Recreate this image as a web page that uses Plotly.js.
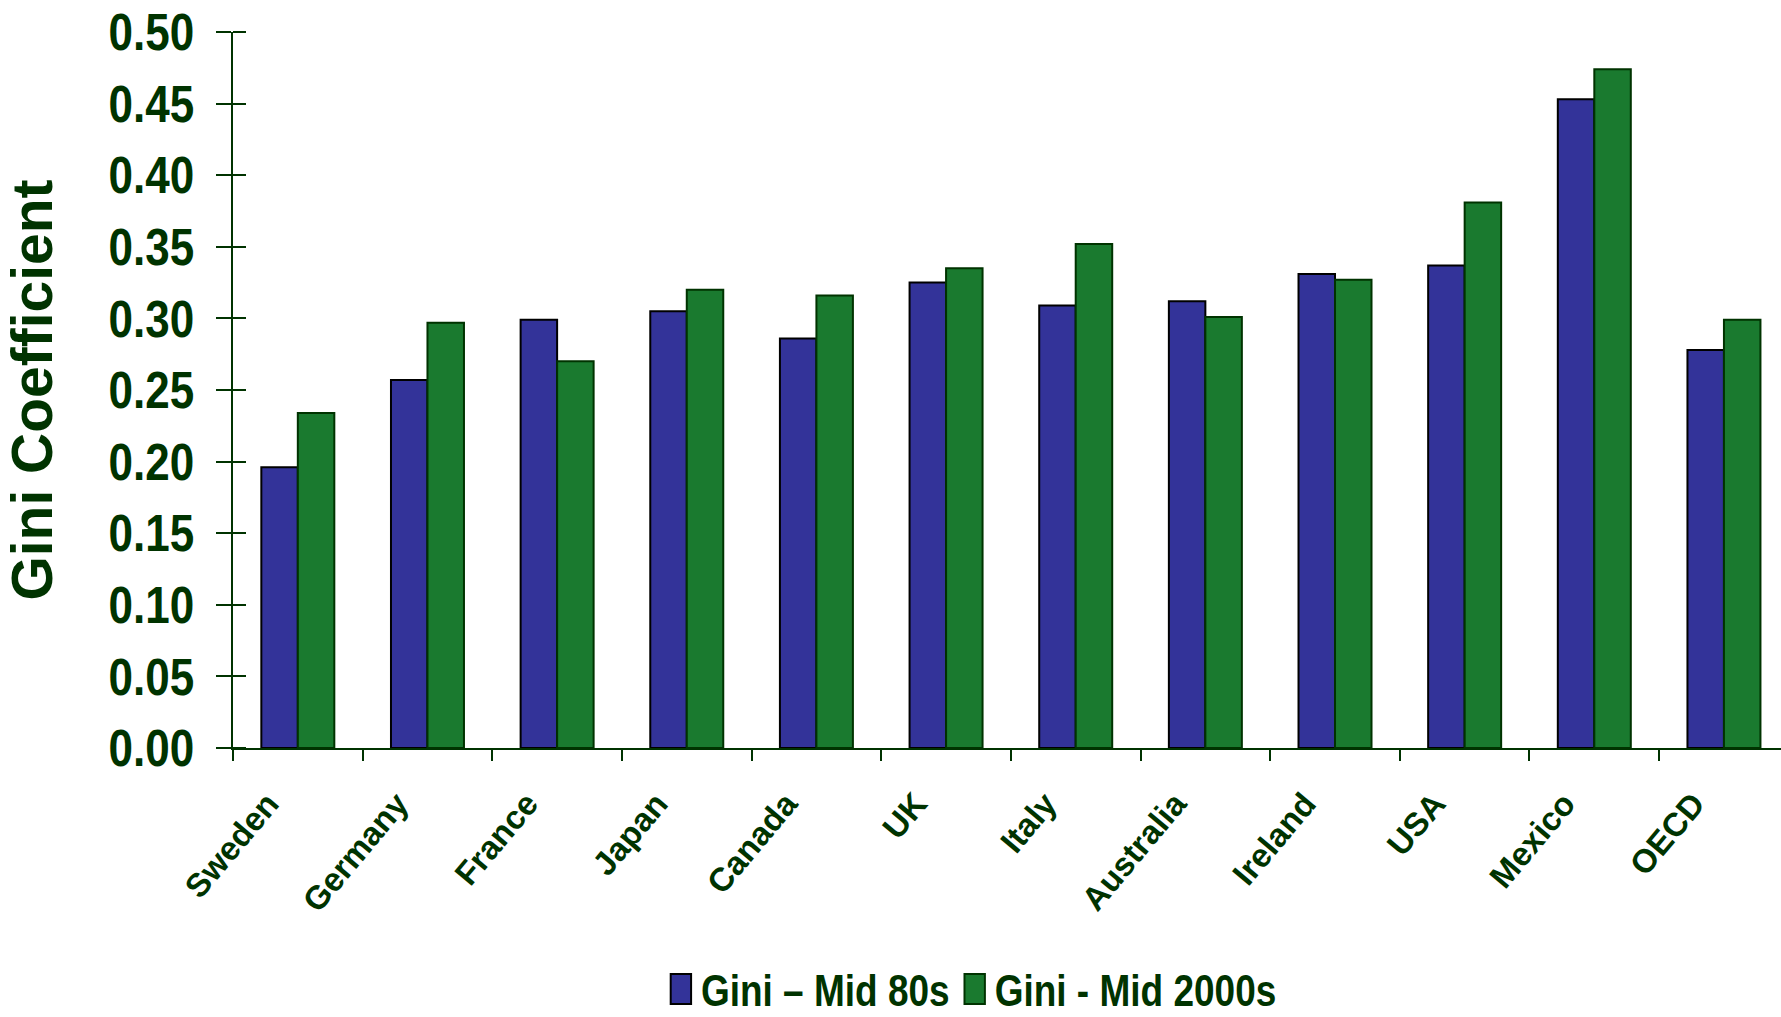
<!DOCTYPE html>
<html>
<head>
<meta charset="utf-8">
<script src="https://cdn.plot.ly/plotly-3.0.1.min.js"></script>
<style>
  html, body { margin: 0; padding: 0; background: #ffffff; }
  #chart { width: 1781px; height: 1017px; }
  /* tall, condensed look for the value labels and legend text */
  #chart g.ytick, #chart text.legendtext {
    transform-box: fill-box;
    transform-origin: 50% 50%;
    transform: scaleY(1.18);
  }
  /* larger, upright legend swatches (keeps plotly's 20px centring offset) */
  #chart g.legendpoints path {
    transform-box: view-box;
    transform-origin: 0 0;
    transform: translate(20px, 0px) scale(1.7, 2.5);
    vector-effect: non-scaling-stroke;
  }
</style>
</head>
<body>
<div id="chart"></div>
<script>
// Income inequality (Gini coefficient), mid-1980s vs mid-2000s
const countries = ["Sweden", "Germany", "France", "Japan", "Canada", "UK",
                   "Italy", "Australia", "Ireland", "USA", "Mexico", "OECD"];
const giniMid80s   = [0.196, 0.257, 0.299, 0.305, 0.286, 0.325, 0.309, 0.312, 0.331, 0.337, 0.453, 0.278];
const giniMid2000s = [0.234, 0.297, 0.270, 0.320, 0.316, 0.335, 0.352, 0.301, 0.327, 0.381, 0.474, 0.299];
const seriesNames  = ["Gini \u2013 Mid 80s", "Gini - Mid 2000s"];
const yTickValues  = [0, 0.05, 0.10, 0.15, 0.20, 0.25, 0.30, 0.35, 0.40, 0.45, 0.50];
const yTickStep    = 0.05;

const INK = "#003300";
const BLUE = "#333399";
const GREEN = "#1a7a2f";
const FONT = "'Liberation Sans', Arial, sans-serif";

const traces = [
  {
    type: "bar", name: seriesNames[0], x: countries, y: giniMid80s,
    marker: { color: BLUE, line: { color: "#000000", width: 2 } }
  },
  {
    type: "bar", name: seriesNames[1], x: countries, y: giniMid2000s,
    marker: { color: GREEN, line: { color: INK, width: 2 } }
  }
];

const layout = {
  width: 1781, height: 1017,
  margin: { l: 233, r: 0, t: 32, b: 269, pad: 0 },
  paper_bgcolor: "#ffffff", plot_bgcolor: "#ffffff",
  barmode: "group", bargap: 0.437, bargroupgap: 0,
  showlegend: true,
  legend: {
    orientation: "h", x: 0.477, xanchor: "center",
    yref: "container", y: 0.027, yanchor: "middle",
    font: { family: FONT, size: 37, color: INK, weight: "bold" },
    tracegroupgap: 0
  },
  xaxis: {
    type: "category", range: [-0.5, 11.44],
    showline: true, linecolor: INK, linewidth: 2,
    ticks: "outside", tickson: "boundaries", ticklen: 11, tickwidth: 2, tickcolor: INK,
    tickangle: -50,
    tickfont: { family: FONT, size: 33, color: INK, weight: "bold" },
    ticklabelstandoff: 21, ticklabelshift: -30,
    showgrid: false, zeroline: false, fixedrange: true
  },
  yaxis: {
    range: [0, 0.5], tickvals: yTickValues, tickformat: ".2f",
    showline: true, linecolor: INK, linewidth: 2,
    ticks: "outside", ticklen: 15, tickwidth: 2, tickcolor: INK,
    // inward half of each cross-shaped tick
    minor: {
      tickmode: "linear", tick0: -0.00001, dtick: yTickStep,
      ticks: "inside", ticklen: 13, tickwidth: 2, tickcolor: INK, showgrid: false
    },
    tickfont: { family: FONT, size: 44, color: INK, weight: "bold" },
    ticklabelstandoff: 13,
    title: { text: "Gini Coefficient", standoff: 50,
             font: { family: FONT, size: 57, color: INK, weight: "bold" } },
    showgrid: false, zeroline: false, fixedrange: true
  }
};

Plotly.newPlot("chart", traces, layout, { displayModeBar: false, staticPlot: true });
</script>
</body>
</html>
